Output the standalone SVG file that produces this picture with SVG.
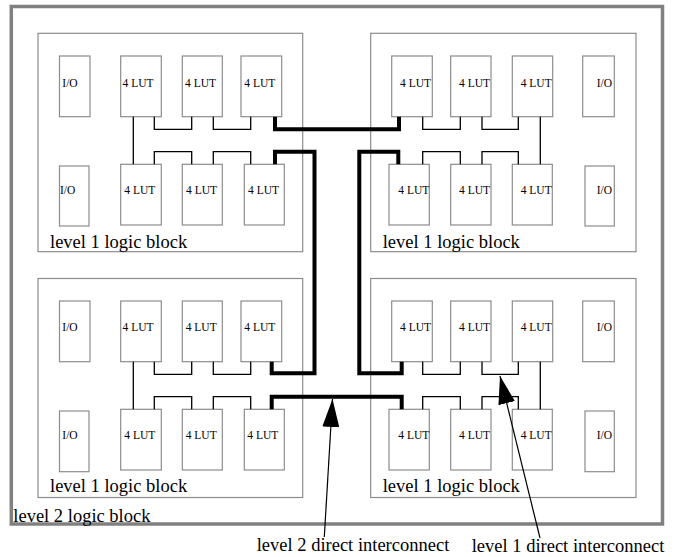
<svg xmlns="http://www.w3.org/2000/svg" width="681" height="557" viewBox="0 0 681 557">
<style>
.frame{fill:none;stroke:#808080;stroke-width:3.5}
.blk{fill:none;stroke:#8c8c8c;stroke-width:1.2}
.cell{fill:#fff;stroke:#8c8c8c;stroke-width:1.2}
.t{font-family:"Liberation Serif","Times New Roman",serif;font-size:11.5px;fill:#000}
.lbl{font-family:"Liberation Serif","Times New Roman",serif;font-size:18.5px;fill:#000}
.thin{fill:none;stroke:#000;stroke-width:1.3}
.thick{fill:none;stroke:#000;stroke-width:4}
.ptr{fill:none;stroke:#000;stroke-width:1.2}
</style>
<defs>
<marker id="ah" viewBox="0 0 28 17" refX="28" refY="8.5" markerWidth="28" markerHeight="17" markerUnits="userSpaceOnUse" orient="auto">
<path d="M0,0 L28,8.5 L0,17 z" fill="#000"/>
</marker>
</defs>
<rect fill="#fff" x="0" y="0" width="681" height="557"/>
<g id="level2-block">
<rect class="frame" x="11.3" y="6.5" width="651.2" height="517.5"/>
<text class="lbl" x="13.3" y="521.5">level 2 logic block</text>
</g>
<g id="block-tl">
<rect class="blk" x="38" y="33.3" width="264.7" height="218.4"/>
<text class="lbl" x="50" y="248.3">level 1 logic block</text>
<g id="tl-io1"><rect class="cell" x="59.5" y="56" width="30.5" height="60.7"/><text class="t" x="62.3" y="87">I/O</text></g>
<g id="tl-lut1"><rect class="cell" x="120.7" y="56" width="40.6" height="60.7"/><text class="t" x="122.5" y="87">4 LUT</text></g>
<g id="tl-lut2"><rect class="cell" x="182.3" y="56" width="40" height="60.7"/><text class="t" x="185" y="87">4 LUT</text></g>
<g id="tl-lut3"><rect class="cell" x="241" y="56" width="40.7" height="60.7"/><text class="t" x="244.3" y="87">4 LUT</text></g>
<g id="tl-io2"><rect class="cell" x="59.5" y="166" width="29.5" height="60"/><text class="t" x="60" y="194.3">I/O</text></g>
<g id="tl-lut4"><rect class="cell" x="120.7" y="164.3" width="40.6" height="60.7"/><text class="t" x="124.3" y="194.3">4 LUT</text></g>
<g id="tl-lut5"><rect class="cell" x="182.3" y="164.3" width="40" height="60.7"/><text class="t" x="186" y="194.3">4 LUT</text></g>
<g id="tl-lut6"><rect class="cell" x="244.3" y="164.3" width="40" height="60.7"/><text class="t" x="248" y="194.3">4 LUT</text></g>
</g>
<g id="block-tr">
<rect class="blk" x="370.7" y="33.3" width="265.3" height="218.4"/>
<text class="lbl" x="382.7" y="248.3">level 1 logic block</text>
<g id="tr-lut1"><rect class="cell" x="391.7" y="56" width="40.6" height="60.7"/><text class="t" x="400" y="87">4 LUT</text></g>
<g id="tr-lut2"><rect class="cell" x="450.7" y="56" width="40.3" height="60.7"/><text class="t" x="459" y="87">4 LUT</text></g>
<g id="tr-lut3"><rect class="cell" x="512.3" y="56" width="40.4" height="60.7"/><text class="t" x="520.7" y="87">4 LUT</text></g>
<g id="tr-io1"><rect class="cell" x="582.7" y="56" width="31.6" height="60.7"/><text class="t" x="596.7" y="87">I/O</text></g>
<g id="tr-lut4"><rect class="cell" x="389" y="164.3" width="40.3" height="60.7"/><text class="t" x="398.3" y="194.3">4 LUT</text></g>
<g id="tr-lut5"><rect class="cell" x="450.7" y="164.3" width="40.3" height="60.7"/><text class="t" x="459" y="194.3">4 LUT</text></g>
<g id="tr-lut6"><rect class="cell" x="512.3" y="164.3" width="40" height="60.7"/><text class="t" x="520.7" y="194.3">4 LUT</text></g>
<g id="tr-io2"><rect class="cell" x="585" y="166" width="29.3" height="60"/><text class="t" x="596.7" y="194.3">I/O</text></g>
</g>
<g id="block-bl">
<rect class="blk" x="38" y="278.5" width="264.7" height="219"/>
<text class="lbl" x="50" y="491.7">level 1 logic block</text>
<g id="bl-io1"><rect class="cell" x="59.5" y="301" width="30.5" height="60.7"/><text class="t" x="62.3" y="331">I/O</text></g>
<g id="bl-lut1"><rect class="cell" x="120.7" y="301" width="40.6" height="60.7"/><text class="t" x="122.5" y="331">4 LUT</text></g>
<g id="bl-lut2"><rect class="cell" x="182.3" y="301" width="40" height="60.7"/><text class="t" x="185.7" y="331">4 LUT</text></g>
<g id="bl-lut3"><rect class="cell" x="241" y="301" width="40.7" height="60.7"/><text class="t" x="244.3" y="331">4 LUT</text></g>
<g id="bl-io2"><rect class="cell" x="59.5" y="411" width="29.5" height="60.7"/><text class="t" x="62.3" y="439.3">I/O</text></g>
<g id="bl-lut4"><rect class="cell" x="120.7" y="409.3" width="40.6" height="60.7"/><text class="t" x="124.3" y="439.3">4 LUT</text></g>
<g id="bl-lut5"><rect class="cell" x="182.3" y="409.3" width="40" height="60.7"/><text class="t" x="185.7" y="439.3">4 LUT</text></g>
<g id="bl-lut6"><rect class="cell" x="244.3" y="409.3" width="40" height="60.7"/><text class="t" x="247.3" y="439.3">4 LUT</text></g>
</g>
<g id="block-br">
<rect class="blk" x="370.7" y="278.5" width="265.3" height="219"/>
<text class="lbl" x="382.7" y="491.7">level 1 logic block</text>
<g id="br-lut1"><rect class="cell" x="391.7" y="301" width="40.6" height="60.7"/><text class="t" x="400" y="331">4 LUT</text></g>
<g id="br-lut2"><rect class="cell" x="450.7" y="301" width="40.3" height="60.7"/><text class="t" x="459" y="331">4 LUT</text></g>
<g id="br-lut3"><rect class="cell" x="512.3" y="301" width="40.4" height="60.7"/><text class="t" x="520.7" y="331">4 LUT</text></g>
<g id="br-io1"><rect class="cell" x="582.7" y="301" width="31.6" height="60.7"/><text class="t" x="596.7" y="331">I/O</text></g>
<g id="br-lut4"><rect class="cell" x="389" y="409.3" width="40.3" height="60.7"/><text class="t" x="398.3" y="439.3">4 LUT</text></g>
<g id="br-lut5"><rect class="cell" x="450.7" y="409.3" width="40.3" height="60.7"/><text class="t" x="459" y="439.3">4 LUT</text></g>
<g id="br-lut6"><rect class="cell" x="512.3" y="409.3" width="40" height="60.7"/><text class="t" x="520.7" y="439.3">4 LUT</text></g>
<g id="br-io2"><rect class="cell" x="585" y="411" width="29.3" height="60.7"/><text class="t" x="596.7" y="439.3">I/O</text></g>
</g>
<g id="connectors">
<g id="level1-links">
<path class="thin" d="M133.3,116.7 V164.3 M154.3,116.7 V129.3 H191.7 V116.7 M213.3,116.7 V129.3 H250.7 V116.7 M154.3,164.3 V151.7 H191.7 V164.3 M213.3,164.3 V151.7 H250.7 V164.3"/>
<path class="thin" d="M540.3,116.7 V164.3 M422.7,116.7 V129.3 H460.3 V116.7 M482,116.7 V129.3 H518.3 V116.7 M422.7,164.3 V151.7 H460.3 V164.3 M482,164.3 V151.7 H518.3 V164.3"/>
<path class="thin" d="M133.3,361.7 V409.3 M154.3,361.7 V374.3 H191.7 V361.7 M213.3,361.7 V374.3 H250.7 V361.7 M154.3,409.3 V396.7 H191.7 V409.3 M213.3,409.3 V396.7 H250.7 V409.3"/>
<path class="thin" d="M540.3,361.7 V409.3 M422.7,361.7 V374.3 H460.3 V361.7 M482,361.7 V374.3 H518.3 V361.7 M422.7,409.3 V396.7 H460.3 V409.3 M482,409.3 V396.7 H518.3 V409.3"/>
</g>
<g id="level2-links">
<path class="thick" d="M275,116.7 V129.3 H399 V116.7"/>
<path class="thick" d="M275,164.3 V151.7 H314.5 V373.3 H271.7 V361.7"/>
<path class="thick" d="M398.3,164.3 V151.7 H359.3 V373.3 H401.7 V361.7"/>
<path class="thick" d="M271.7,409.3 V396.7 H401.7 V409.3"/>
</g>
<g id="pointers">
<line class="ptr" x1="324.3" y1="537" x2="332.5" y2="399" marker-end="url(#ah)"/>
<line class="ptr" x1="540" y1="538" x2="500" y2="376" marker-end="url(#ah)"/>
</g>
</g>
<text class="lbl" x="256.7" y="550.7">level 2 direct interconnect</text>
<text class="lbl" x="471.7" y="551.7">level 1 direct interconnect</text>
</svg>
